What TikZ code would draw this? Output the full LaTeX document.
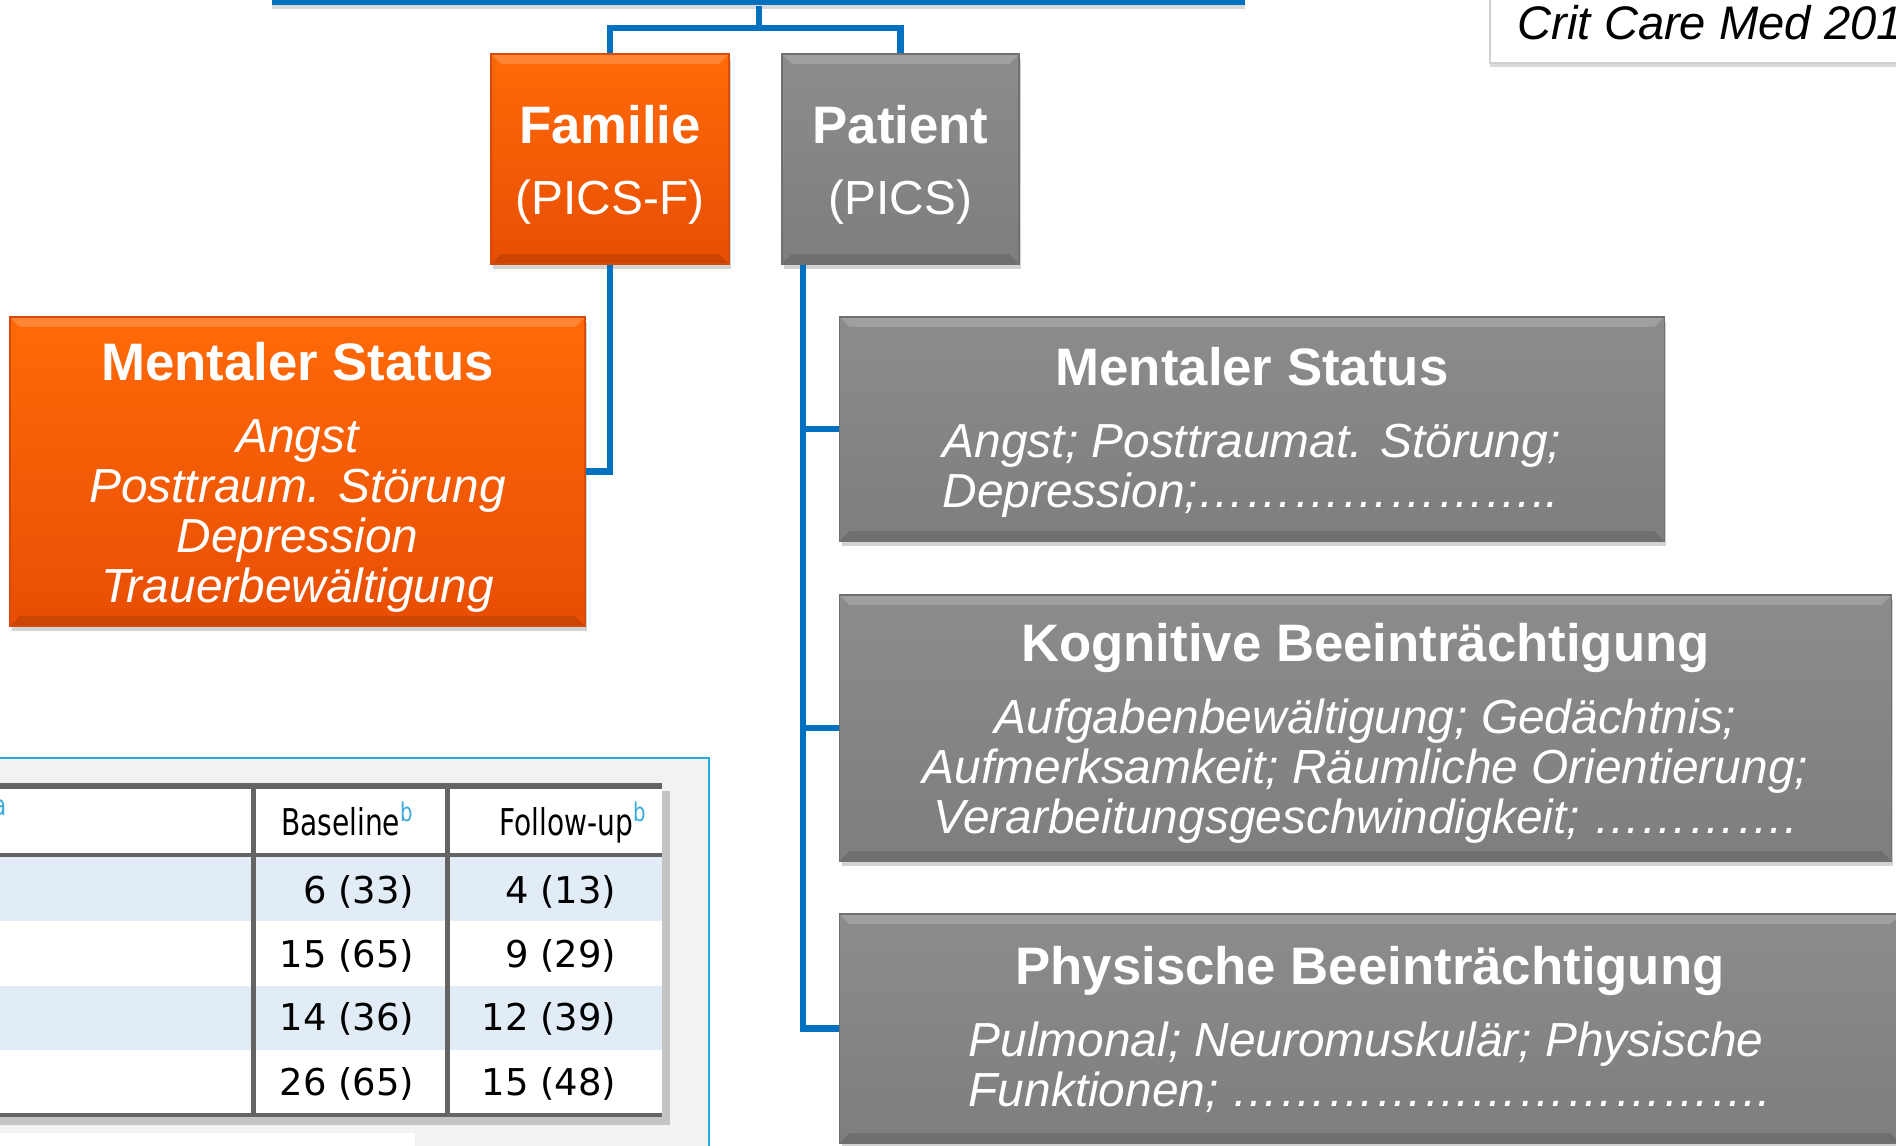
\documentclass[tikz,border=0pt]{standalone}
\usepackage{fontspec}
\setmainfont{Liberation Sans}
\newfontfamily\tablefont{DejaVu Sans}
\newfontfamily\headfont{DejaVu Sans}[FakeStretch=0.76]
\usetikzlibrary{shadows}

\definecolor{linkblue}{RGB}{0,112,192}
\definecolor{orangetop}{RGB}{255,106,8}
\definecolor{orangebot}{RGB}{232,78,4}
\definecolor{orangeline}{RGB}{214,74,10}
\definecolor{greytop}{RGB}{140,140,140}
\definecolor{greybot}{RGB}{126,126,126}
\definecolor{greyline}{RGB}{112,112,112}
\definecolor{framecyan}{RGB}{41,171,226}
\definecolor{framefill}{RGB}{242,242,242}
\definecolor{rowblue}{RGB}{225,236,246}
\definecolor{rulegrey}{RGB}{100,100,100}
\definecolor{notecyan}{RGB}{59,169,217}

\newcommand\boxhead[1]{{\fontsize{15}{18}\selectfont\upshape\bfseries\rule{0pt}{14pt}#1}}

\begin{document}
\begin{tikzpicture}[x=0.01cm, y=-0.01cm,
  box/.style={rectangle, inner sep=0pt, align=center, text=white,
    font=\fontsize{13.6}{14.2}\selectfont,
    drop shadow={opacity=0.35, shadow xshift=0.02cm, shadow yshift=-0.05cm},
    path picture={
      \fill[white, opacity=0.18] (path picture bounding box.north west)
        -- (path picture bounding box.north east)
        -- ([xshift=-0.1cm, yshift=-0.1cm]path picture bounding box.north east)
        -- ([xshift=0.1cm, yshift=-0.1cm]path picture bounding box.north west) -- cycle;
      \fill[black, opacity=0.12] (path picture bounding box.south west)
        -- (path picture bounding box.south east)
        -- ([xshift=-0.1cm, yshift=0.1cm]path picture bounding box.south east)
        -- ([xshift=0.1cm, yshift=0.1cm]path picture bounding box.south west) -- cycle;
    }},
  detail/.style={font=\fontsize{13.6}{14.2}\selectfont\itshape},
  famStyle/.style={box, draw=orangeline, top color=orangetop, bottom color=orangebot},
  patStyle/.style={box, draw=greyline, top color=greytop, bottom color=greybot},
  link/.style={draw=linkblue, line width=0.065cm},
  cell/.style={anchor=base east, inner sep=0pt, font=\tablefont\fontsize{10.5}{12}\selectfont},
  headcell/.style={cell, font=\headfont\fontsize{10.5}{12}\selectfont}]

\useasboundingbox (0,0) rectangle (1896,1146);

% table cut-out
\draw[framecyan, fill=framefill, line width=0.02cm] (-10,758) rectangle (709,1160);
\fill[white] (-10,1133) rectangle (415,1160);
\fill[white, drop shadow={opacity=0.4, shadow xshift=0.08cm, shadow yshift=-0.08cm}]
    (-10,783) rectangle (662,1117);
\foreach \y in {857,986}
    \fill[rowblue] (-10,\y) rectangle (662,\y+64);
\draw[rulegrey, line width=0.06cm] (-10,786) -- (662,786);
\draw[rulegrey, line width=0.045cm] (-10,855) -- (662,855);
\draw[rulegrey, line width=0.045cm] (-10,1115) -- (662,1115);
\foreach \x in {253,447}
    \draw[rulegrey, line width=0.05cm] (\x,786) -- (\x,1115);

\node[headcell, text=notecyan, font=\headfont\fontsize{8}{9}\selectfont] (noteA) at (7,816) {a};
\node[headcell] (headBase) at (415,835) {Baseline\textsuperscript{\color{notecyan}b}};
\node[headcell] (headFollow) at (648,835) {Follow-up\textsuperscript{\color{notecyan}b}};

\foreach \b/\f/\y [count=\i] in {6 (33)/4 (13)/903, 15 (65)/9 (29)/967,
        14 (36)/12 (39)/1030, 26 (65)/15 (48)/1095} {
    \node[cell] (base\i) at (415,\y) {\b};
    \node[cell] (follow\i) at (617,\y) {\f};
}

% citation
\node[draw=black!18, fill=white, minimum width=4.2cm, minimum height=0.7cm,
    drop shadow={opacity=0.3, shadow xshift=0cm, shadow yshift=-0.04cm}] (citeBox) at (1700,28) {};
\node[anchor=base west, inner sep=0pt, font=\fontsize{13.4}{16}\selectfont\itshape] (citeText) at (1517,40) {Crit Care Med 201};

% tree
\node[rectangle, fill=linkblue, minimum width=9.73cm, minimum height=0.1cm, inner sep=0pt,
    drop shadow={opacity=0.3, shadow xshift=0cm, shadow yshift=-0.04cm}] (topBar) at (758.5,0) {};

\node[famStyle, minimum width=2.38cm, minimum height=2.1cm] (famBox) at (610,159)
    {\boxhead{Familie}\\[6pt](PICS-F)};
\node[patStyle, minimum width=2.37cm, minimum height=2.1cm] (patBox) at (900.5,159)
    {\boxhead{Patient}\\[6pt](PICS)};

\node[famStyle, detail, minimum width=5.75cm, minimum height=3.09cm] (famMental) at (297.5,471.5)
    {\boxhead{Mentaler Status}\\[6.3pt]Angst\\Posttraum. Störung\\Depression\\Trauerbewältigung};

\node[patStyle, detail, minimum width=8.24cm, minimum height=2.24cm] (patMental) at (1252,429)
    {\boxhead{Mentaler Status}\\[6.3pt]
     \begin{tabular}[t]{@{}l@{}}Angst; Posttraumat. Störung;\\Depression;…………………..\end{tabular}};
\node[patStyle, detail, minimum width=10.51cm, minimum height=2.66cm] (patCognitive) at (1365.5,728)
    {\boxhead{Kognitive Beeinträchtigung}\\[6.3pt]
     Aufgabenbewältigung; Gedächtnis;\\Aufmerksamkeit; Räumliche Orientierung;\\Verarbeitungsgeschwindigkeit; ………….};
\node[patStyle, detail, minimum width=10.6cm, minimum height=2.29cm] (patPhysical) at (1370,1028.5)
    {\boxhead{Physische Beeinträchtigung}\\[6.3pt]
     \begin{tabular}[t]{@{}l@{}}Pulmonal; Neuromuskulär; Physische\\Funktionen; …………………………….\end{tabular}};

\coordinate (fork) at (759,28);
\coordinate (trunk) at ([xshift=0.22cm]patBox.south west);

\draw[link] (topBar.south -| fork) -- (fork);
\draw[link] (famBox.north) |- (fork) -| (patBox.north);
\draw[link] (famBox.south) |- (famMental.east);
\foreach \n in {patMental,patCognitive,patPhysical}
    \draw[link] (trunk) |- (\n.west);

\end{tikzpicture}
\end{document}
